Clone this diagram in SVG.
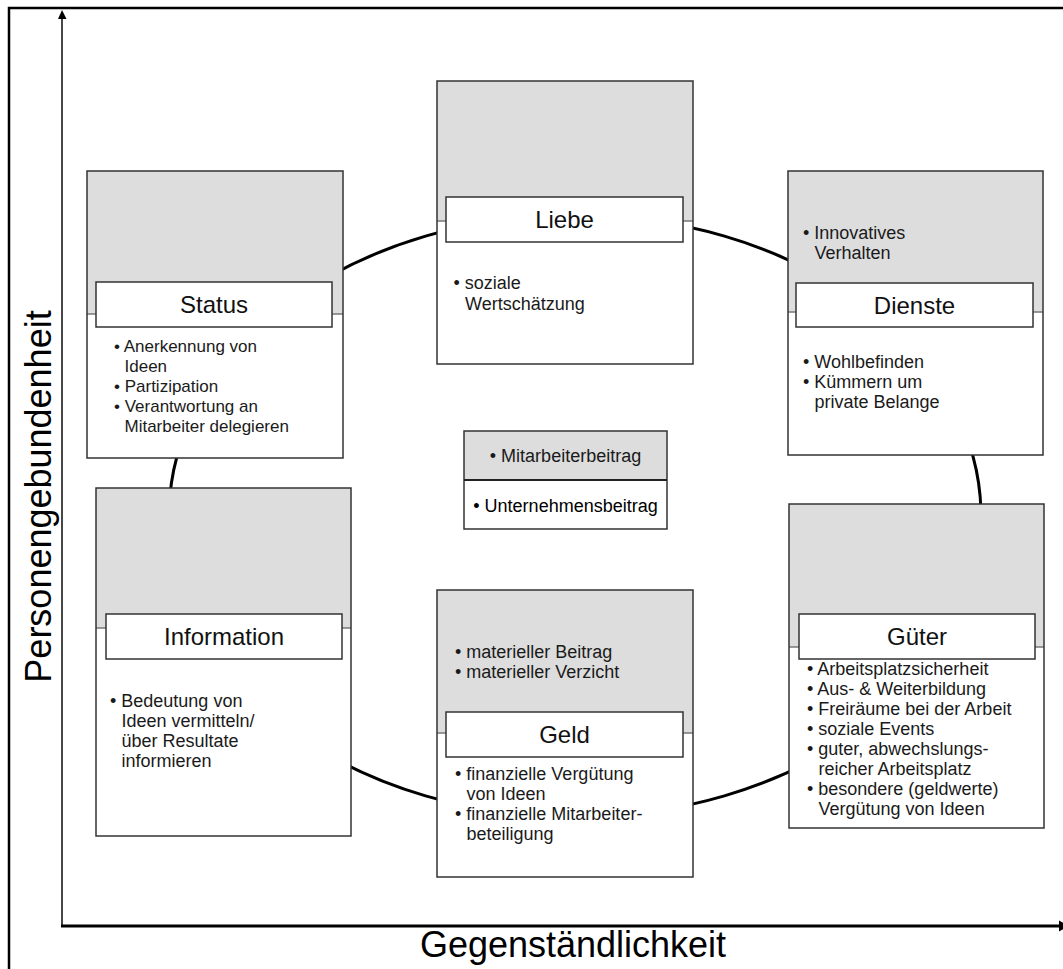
<svg xmlns="http://www.w3.org/2000/svg" width="1063" height="969" viewBox="0 0 1063 969">
<style>
text{font-family:"Liberation Sans",Arial,sans-serif;fill:#1a1a1a}
.b{font-size:18px}
.s{font-size:17px}
.lg{font-size:18px;text-anchor:middle}
.lbl{font-size:24px;text-anchor:middle;fill:#111}
.ax{font-size:36px;text-anchor:middle;fill:#000}
.bg{fill:#fff;stroke:none}
.gr{fill:#dddddd;stroke:none}
.ol{fill:none;stroke:#333;stroke-width:1.5}
.dv{stroke:#777;stroke-width:1.5}
.lr{fill:#fff;stroke:#333;stroke-width:1.5}
</style>
<rect width="1063" height="969" fill="#fff"/>
<path d="M9,969 V8 H1063" fill="none" stroke="#000" stroke-width="2.5"/>
<g id="axes">
<line x1="62" y1="926" x2="62" y2="17" stroke="#333" stroke-width="1.8"/>
<polygon points="62,10 58,19 66.5,19" fill="#000"/>
<line x1="61" y1="926" x2="1061" y2="926" stroke="#000" stroke-width="3"/>
<polygon points="1059,920.5 1059,931.5 1069,926" fill="#000"/>
<text class="ax" transform="translate(51,496.5) rotate(-90)">Personengebundenheit</text>
<text class="ax" x="573" y="957">Gegenständlichkeit</text>
</g>
<g id="connectors">
<ellipse cx="575" cy="516" rx="406" ry="301" fill="none" stroke="#000" stroke-width="3"/>
</g>
<g id="status">
<rect class="bg" x="87" y="171" width="256" height="287"/>
<rect class="gr" x="87" y="171" width="256" height="143"/>
<line class="dv" x1="87" y1="314" x2="343" y2="314"/>
<rect class="ol" x="87" y="171" width="256" height="287"/>
<rect class="lr" x="96" y="282" width="236" height="45"/>
<text class="lbl" x="214" y="313">Status</text>
<text class="s" x="114" y="352">• Anerkennung von</text>
<text class="s" x="124.5" y="372">Ideen</text>
<text class="s" x="114" y="392">• Partizipation</text>
<text class="s" x="114" y="412">• Verantwortung an</text>
<text class="s" x="124.5" y="432">Mitarbeiter delegieren</text>
</g>
<g id="liebe">
<rect class="bg" x="437" y="81" width="256" height="283"/>
<rect class="gr" x="437" y="81" width="256" height="140"/>
<line class="dv" x1="437" y1="221" x2="693" y2="221"/>
<rect class="ol" x="437" y="81" width="256" height="283"/>
<rect class="lr" x="446" y="197" width="237" height="45"/>
<text class="lbl" x="564.5" y="228">Liebe</text>
<text class="b" x="453.5" y="289">• soziale</text>
<text class="b" x="465" y="310">Wertschätzung</text>
</g>
<g id="dienste">
<rect class="bg" x="788" y="171" width="255" height="284"/>
<rect class="gr" x="788" y="171" width="255" height="141"/>
<line class="dv" x1="788" y1="312" x2="1043" y2="312"/>
<rect class="ol" x="788" y="171" width="255" height="284"/>
<text class="b" x="803" y="239">• Innovatives</text>
<text class="b" x="814.5" y="259">Verhalten</text>
<rect class="lr" x="796" y="283" width="237" height="44"/>
<text class="lbl" x="914.5" y="314">Dienste</text>
<text class="b" x="803" y="368">• Wohlbefinden</text>
<text class="b" x="803" y="388">• Kümmern um</text>
<text class="b" x="814.5" y="408">private Belange</text>
</g>
<g id="legende">
<rect x="464" y="431" width="203" height="49" fill="#dddddd"/>
<rect x="464" y="480" width="203" height="49" fill="#fff"/>
<rect class="ol" x="464" y="431" width="203" height="98"/>
<line x1="464" y1="480" x2="667" y2="480" stroke="#222" stroke-width="1.8"/>
<text class="lg" x="565.5" y="462">• Mitarbeiterbeitrag</text>
<text class="lg" x="565.5" y="512" style="fill:#000">• Unternehmensbeitrag</text>
</g>
<g id="information">
<rect class="bg" x="96" y="488" width="255" height="348"/>
<rect class="gr" x="96" y="488" width="255" height="140"/>
<line class="dv" x1="96" y1="628" x2="351" y2="628"/>
<rect class="ol" x="96" y="488" width="255" height="348"/>
<rect class="lr" x="106" y="614" width="236" height="45"/>
<text class="lbl" x="224" y="645">Information</text>
<text class="b" x="110" y="707">• Bedeutung von</text>
<text class="b" x="121.5" y="727">Ideen vermitteln/</text>
<text class="b" x="121.5" y="747">über Resultate</text>
<text class="b" x="121.5" y="767">informieren</text>
</g>
<g id="geld">
<rect class="bg" x="437" y="590" width="256" height="287"/>
<rect class="gr" x="437" y="590" width="256" height="143"/>
<line class="dv" x1="437" y1="733" x2="693" y2="733"/>
<rect class="ol" x="437" y="590" width="256" height="287"/>
<text class="b" x="455" y="658">• materieller Beitrag</text>
<text class="b" x="455" y="678">• materieller Verzicht</text>
<rect class="lr" x="446" y="712" width="237" height="45"/>
<text class="lbl" x="564.5" y="743">Geld</text>
<text class="b" x="455" y="780">• finanzielle Vergütung</text>
<text class="b" x="466.5" y="800">von Ideen</text>
<text class="b" x="455" y="820">• finanzielle Mitarbeiter-</text>
<text class="b" x="466.5" y="840">beteiligung</text>
</g>
<g id="gueter">
<rect class="bg" x="789" y="504" width="255" height="324"/>
<rect class="gr" x="789" y="504" width="255" height="143"/>
<line class="dv" x1="789" y1="647" x2="1044" y2="647"/>
<rect class="ol" x="789" y="504" width="255" height="324"/>
<rect class="lr" x="799" y="614" width="236" height="45"/>
<text class="lbl" x="917" y="645">Güter</text>
<text class="b" x="807" y="675">• Arbeitsplatzsicherheit</text>
<text class="b" x="807" y="695">• Aus- &amp; Weiterbildung</text>
<text class="b" x="807" y="715">• Freiräume bei der Arbeit</text>
<text class="b" x="807" y="735">• soziale Events</text>
<text class="b" x="807" y="755">• guter, abwechslungs-</text>
<text class="b" x="818.5" y="775">reicher Arbeitsplatz</text>
<text class="b" x="807" y="795">• besondere (geldwerte)</text>
<text class="b" x="818.5" y="815">Vergütung von Ideen</text>
</g>
</svg>
